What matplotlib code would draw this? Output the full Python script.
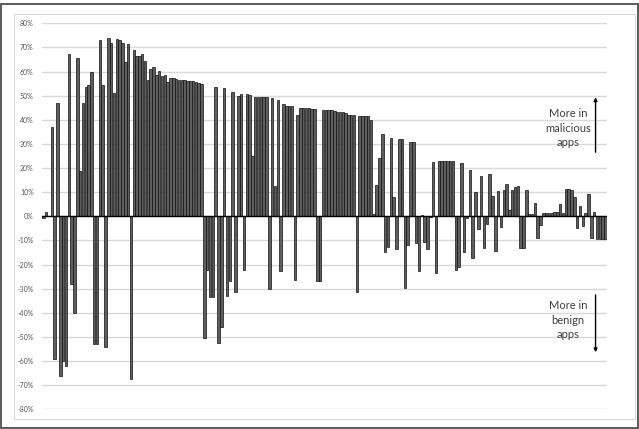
# Difference in feature share: malicious vs benign apps
import numpy as np
import matplotlib.pyplot as plt
from matplotlib.patches import Rectangle

# Bar values (%), read left to right
seg1 = [-0.5, 1.7, 0.3, 37, -59, 47, -66, -60, -62, 67.4, -28, -40, 65.7, 18.8, 47,
        53.7, 54.4, 60, -53, -53, 73, 54.4, -54, 74, 71.7]
seg2 = [51, 73.5, 73, 72, 64, 71.3, -67.4, 69, 66.6]
seg3 = [66.5, 67.2, 64.5, 56.5, 61, 61.8, 58.6, 60.2, 58.2, 58.6, 55.7, 57.2, 57.2,
        56.8, 56.5, 56.4, 56.4, 56.2, 56.2, 56, 55.8, 55.4, 54.7]
seg4 = [-50.3, -22.2, -33.3, -33.3, 53.7, -52.6, -46, 53, -33, -27, 51.7, -31.5,
        49.9, 50.5, -22.2, 50.5, 50.3, 25]
seg5 = [49.6, 49.6, 49.6, 49.6, 49.6, -30, 49.2, 12.7, 48, -22.6, 46.4, 45.9, 45.7,
        45.7, -26.4, 42, 45, 45, 45, 45, 44.5, 44.5, -27, -26.7]
seg6 = [44, 44, 44, 44, 43.6, 43.4, 43.4, 43.4, 42.7, 42, 42, 42, -31.5, 41.6, 41.6,
        41.6, 41.6, 40, 1, 13, 24.3, 34, -14.6, -12.6, 32.6]
seg7 = [8.1, -13.5, 31.9, 31.9, -29.8, -11.9, 31, 30.7, -11.2, -22.5, 0.5, -10.5,
        -13.7, -0.3, 22.5, -23.6, 23, 23, 23, 23, 23, 23, -22.2, -20.9]
seg8 = [22, -15, -0.8, 19.2, -17.4, 10, -5.2, 16.9, -13, -3.3, 17.4, 8.4, -14.4,
        10.5, -4.3, 10.9, 13.3, 2.6, 10.9, 12.3, 12.7, -13, -13, 10.9, 0.8]
seg9 = [0.8, 5.4, -8.8, -3.6, 1.2, 1.5, 1.5, 1.5, 1.9, 1.9, 5, 1.2, 11.3, 11.3, 11,
        8.1, -5, 4.4, -3.9, 1.5, 9.1, -8.8, 1.9, -9.4, -9.4, -9.4, -9.4]

values = np.array(seg1 + seg2 + seg3 + seg4 + seg5 + seg6 + seg7 + seg8 + seg9)
y_ticks = list(range(-80, 81, 10))
y_labels = [f'{t}%' for t in y_ticks]

plt.rcParams['font.family'] = ['Lato', 'DejaVu Sans']

fig = plt.figure(figsize=(6.39, 4.29), dpi=100)
ax = fig.add_axes([0.0657, 0.0459, 0.884, 0.8998])

x = np.arange(len(values))
ax.bar(x, values, width=0.88, color='#5e5e5e', edgecolor='#111111', linewidth=0.5, zorder=3)
ax.axhline(0, color='black', linewidth=1.0, zorder=4)

ax.set_xlim(-0.5, len(values) - 0.5)
ax.set_ylim(-80, 80)
ax.set_yticks(y_ticks)
ax.set_yticklabels(y_labels, fontsize=5, color='#595959')
ax.set_xticks([])
ax.tick_params(axis='y', length=0, pad=6)
ax.grid(axis='y', color='#d9d9d9', linewidth=1.0, zorder=0)
for s in ax.spines.values():
    s.set_visible(False)

# Annotations
ax.text(0.931, 36.6, 'More in\nmalicious\napps', transform=ax.get_yaxis_transform(),
        ha='center', va='center', fontsize=8, color='#404040', linespacing=1.35)
ax.text(0.931, -43, 'More in\nbenign\napps', transform=ax.get_yaxis_transform(),
        ha='center', va='center', fontsize=8, color='#404040', linespacing=1.35)
ax.annotate('', xy=(0.98, 50.5), xytext=(0.98, 25.4), xycoords=ax.get_yaxis_transform(),
            arrowprops=dict(arrowstyle='-|>', color='black', lw=1.0, mutation_scale=5))
ax.annotate('', xy=(0.98, -57.5), xytext=(0.98, -31.4), xycoords=ax.get_yaxis_transform(),
            arrowprops=dict(arrowstyle='-|>', color='black', lw=1.0, mutation_scale=5))

# Chart frames
fig.patches.append(Rectangle((0.0219, 0.0233), 0.9718, 0.9437, transform=fig.transFigure,
                             fill=False, edgecolor='#d9d9d9', linewidth=0.8))
fig.patches.append(Rectangle((0.0016, 0.0023), 0.9968, 0.9884, transform=fig.transFigure,
                             fill=False, edgecolor='#404040', linewidth=1.2))

plt.savefig('out.png', dpi=100)
